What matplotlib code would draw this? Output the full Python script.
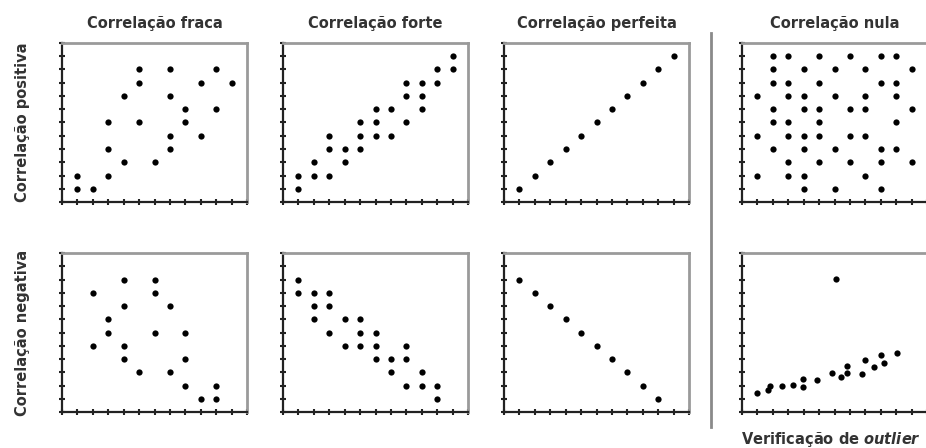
import matplotlib.pyplot as plt

# --------------------------------
# DATA (grid units 0..12)
# --------------------------------
fraca_pos_x = [1, 1, 2, 3, 3, 3, 4, 4, 5, 5, 5, 6, 7, 7, 7, 7, 8, 8, 9, 9, 10, 10, 11]
fraca_pos_y = [2, 1, 1, 2, 4, 6, 3, 8, 6, 9, 10, 3, 10, 8, 5, 4, 7, 6, 9, 5, 10, 7, 9]

forte_pos_x = [1, 1, 2, 2, 3, 3, 3, 4, 4, 5, 5, 5, 6, 6, 6, 7, 7, 8, 8, 8, 9, 9, 9, 10, 10, 11, 11]
forte_pos_y = [1, 2, 2, 3, 2, 4, 5, 3, 4, 4, 5, 6, 5, 6, 7, 5, 7, 6, 8, 9, 7, 8, 9, 9, 10, 10, 11]

perf_pos_x = [1, 2, 3, 4, 5, 6, 7, 8, 9, 10, 11]
perf_pos_y = [1, 2, 3, 4, 5, 6, 7, 8, 9, 10, 11]

nula_x = [2, 3, 5, 7, 9, 10,
          2, 4, 6, 8, 11,
          2, 3, 5, 9, 10,
          1, 3, 4, 6, 8, 10,
          2, 4, 5, 7, 8, 11,
          2, 3, 5, 10,
          1, 3, 4, 5, 7, 8,
          2, 4, 6, 9, 10,
          3, 5, 7, 9, 11,
          1, 3, 4, 8,
          4, 6, 9]
nula_y = [11] * 6 + [10] * 5 + [9] * 5 + [8] * 6 + [7] * 6 + [6] * 4 + \
         [5] * 6 + [4] * 5 + [3] * 5 + [2] * 4 + [1] * 3

fraca_neg_x = [2, 2, 3, 3, 4, 4, 4, 4, 5, 6, 6, 6, 7, 7, 8, 8, 8, 9, 10, 10]
fraca_neg_y = [9, 5, 7, 6, 10, 8, 5, 4, 3, 10, 9, 6, 8, 3, 6, 4, 2, 1, 2, 1]

forte_neg_x = [1, 1, 2, 2, 2, 3, 3, 3, 4, 4, 5, 5, 5, 6, 6, 6, 7, 7, 8, 8, 8, 9, 9, 10, 10]
forte_neg_y = [10, 9, 9, 8, 7, 9, 8, 6, 7, 5, 7, 6, 5, 6, 5, 4, 4, 3, 5, 4, 2, 3, 2, 2, 1]

perf_neg_x = [1, 2, 3, 4, 5, 6, 7, 8, 9, 10]
perf_neg_y = [10, 9, 8, 7, 6, 5, 4, 3, 2, 1]

outlier_x = [0.97, 1.68, 1.83, 2.58, 3.33, 3.94, 3.94, 4.88, 5.81, 6.09,
             6.39, 6.82, 6.82, 7.81, 7.96, 8.54, 9.03, 9.2, 10.06]
outlier_y = [1.46, 1.66, 1.96, 1.96, 2.04, 2.46, 1.88, 2.39, 2.96, 10.05,
             2.66, 3.47, 2.96, 2.89, 3.89, 3.39, 4.27, 3.67, 4.42]

titles = ["Correlação fraca", "Correlação forte", "Correlação perfeita", "Correlação nula"]
row_labels = ["Correlação positiva", "Correlação negativa"]

panels = [
    [(fraca_pos_x, fraca_pos_y), (forte_pos_x, forte_pos_y),
     (perf_pos_x, perf_pos_y), (nula_x, nula_y)],
    [(fraca_neg_x, fraca_neg_y), (forte_neg_x, forte_neg_y),
     (perf_neg_x, perf_neg_y), (outlier_x, outlier_y)],
]

# --------------------------------
# LAYOUT
# --------------------------------
W, H = 926, 448
fig = plt.figure(figsize=(W / 100, H / 100), dpi=100)

col_left = [62, 283, 504, 742]   # px
row_top = [43, 253]              # px
box_w, box_h = 185, 159
txt_color = '#333333'

for r in range(2):
    for c in range(4):
        left = col_left[c] / W
        bottom = 1 - (row_top[r] + box_h) / H
        ax = fig.add_axes([left, bottom, box_w / W, box_h / H])
        xs, ys = panels[r][c]
        ax.plot(xs, ys, 'o', color='black', markersize=4.5, markeredgewidth=0)
        ax.set_xlim(0, 12)
        ax.set_ylim(0, 12)
        ax.set_xticks(range(13))
        ax.set_yticks(range(13))
        ax.set_xticklabels([])
        ax.set_yticklabels([])
        ax.tick_params(direction='inout', length=5, width=1.5, color='#222222')
        ax.tick_params(top=False, right=False)
        for side in ['top', 'right']:
            ax.spines[side].set_color('#9a9a9a')
            ax.spines[side].set_linewidth(2)
        for side in ['left', 'bottom']:
            ax.spines[side].set_color('#222222')
            ax.spines[side].set_linewidth(1.6)
        if r == 0:
            ax.set_title(titles[c], fontsize=10.5, fontweight='bold', color=txt_color, pad=11)
        if c == 0:
            ax.set_ylabel(row_labels[r], fontsize=10.5, fontweight='bold', color=txt_color, labelpad=17)
        if r == 1 and c == 3:
            ax.set_xlabel(r"Verificação de $\mathbfit{outlier}$", fontsize=10.5, fontweight='bold',
                          color=txt_color, labelpad=7, x=0.48)

# Separator line
fig.add_artist(plt.Line2D([711 / W, 711 / W], [1 - 33 / H, 1 - 427 / H],
                          color='#8a8a8a', linewidth=2))

plt.savefig("out.png", dpi=100)
